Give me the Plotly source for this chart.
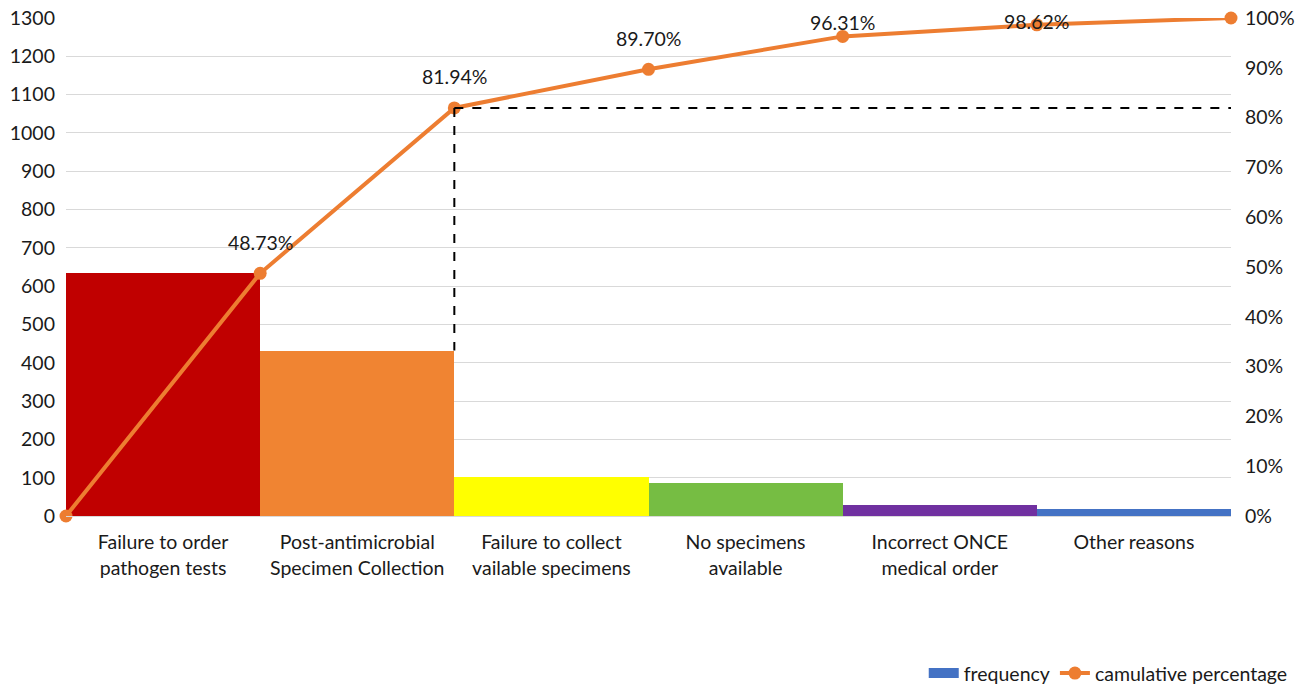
import plotly.graph_objects as go

categories = ["Failure to order<br>pathogen tests", "Post-antimicrobial<br>Specimen Collection",
              "Failure to collect<br>vailable specimens", "No specimens<br>available",
              "Incorrect ONCE<br>medical order", "Other reasons"]
frequency = [634, 432, 101, 86, 30, 18]
cumulative_pct = [0.0, 0.4873, 0.8194, 0.8970, 0.9631, 0.9862, 1.0]
pct_labels = ["", "48.73%", "81.94%", "89.70%", "96.31%", "98.62%", ""]
bar_colors = ["#C00000", "#F08432", "#FFFF00", "#76BD43", "#7030A0", "#4472C4"]
label_shift = [0, 31, 31, 31, 14, 3, 0]
left_ticks = list(range(0, 1301, 100))
right_ticks = [i / 10 for i in range(11)]
right_tick_text = [f"{i*10}%" for i in range(11)]

FONT = "Lato, 'Open Sans', sans-serif"
FS = 19.5
TXT = "#1a1a1a"
n = len(frequency)
bar_x = [i + 0.5 for i in range(n)]
line_x = list(range(n + 1))

fig = go.Figure()
fig.add_trace(go.Bar(x=bar_x, y=frequency, width=1.0, marker=dict(color=bar_colors, line=dict(width=0)),
                     showlegend=False, name="frequency"))
# legend entry for the frequency series (wide blue swatch)
fig.add_trace(go.Scatter(x=[None], y=[None], mode="lines", line=dict(color="#4472C4", width=14),
                         name="frequency"))
fig.add_trace(go.Scatter(x=line_x, y=cumulative_pct, yaxis="y2", mode="lines+markers", cliponaxis=False,
                         line=dict(color="#ED7D31", width=4), marker=dict(size=13, color="#ED7D31"),
                         name="camulative percentage"))

for xi, yi, lab, sh in zip(line_x, cumulative_pct, pct_labels, label_shift):
    if lab:
        fig.add_annotation(x=xi, y=yi, yref="y2", text=lab, showarrow=False, yshift=sh,
                           font=dict(family=FONT, size=FS, color=TXT))

# 80% threshold dashed guide lines
fig.add_shape(type="line", x0=2, x1=6.05, y0=cumulative_pct[2], y1=cumulative_pct[2], xref="x", yref="y2",
              line=dict(color="#000000", width=2, dash="dash"))
fig.add_shape(type="line", x0=2, x1=2, y0=cumulative_pct[2] * 1300, y1=frequency[1], xref="x", yref="y",
              line=dict(color="#000000", width=2, dash="dash"))

fig.update_layout(
    width=1306, height=688,
    margin=dict(l=66, r=75, t=18, b=172, autoexpand=False),
    paper_bgcolor="white", plot_bgcolor="white",
    font=dict(family=FONT, size=FS, color=TXT),
    bargap=0,
    xaxis=dict(range=[0, n], tickmode="array", tickvals=bar_x, ticktext=categories, automargin=False,
               showgrid=False, zeroline=False, showline=True, linecolor="#D9D9D9", linewidth=1,
               ticks="", tickfont=dict(size=FS, color=TXT), ticklabelstandoff=9),
    yaxis=dict(range=[0, 1300], tickmode="array", tickvals=left_ticks, showgrid=True, automargin=False,
               gridcolor="#D9D9D9", gridwidth=1, zeroline=False, ticks="", showline=False,
               tickfont=dict(size=FS, color=TXT), ticklabelstandoff=10, ticklabeloverflow="allow"),
    yaxis2=dict(range=[0, 1], overlaying="y", side="right", tickmode="array", tickvals=right_ticks,
                ticktext=right_tick_text, showgrid=False, zeroline=False, ticks="", automargin=False,
                tickfont=dict(size=FS, color=TXT), ticklabelstandoff=13, ticklabeloverflow="allow"),
    legend=dict(orientation="h", x=1.053, xanchor="right", y=-0.316, yanchor="middle",
                font=dict(size=FS, color=TXT), traceorder="normal"),
)

fig.write_html("out.html", config={"displayModeBar": False},
               post_script="document.body.style.margin='0';")
